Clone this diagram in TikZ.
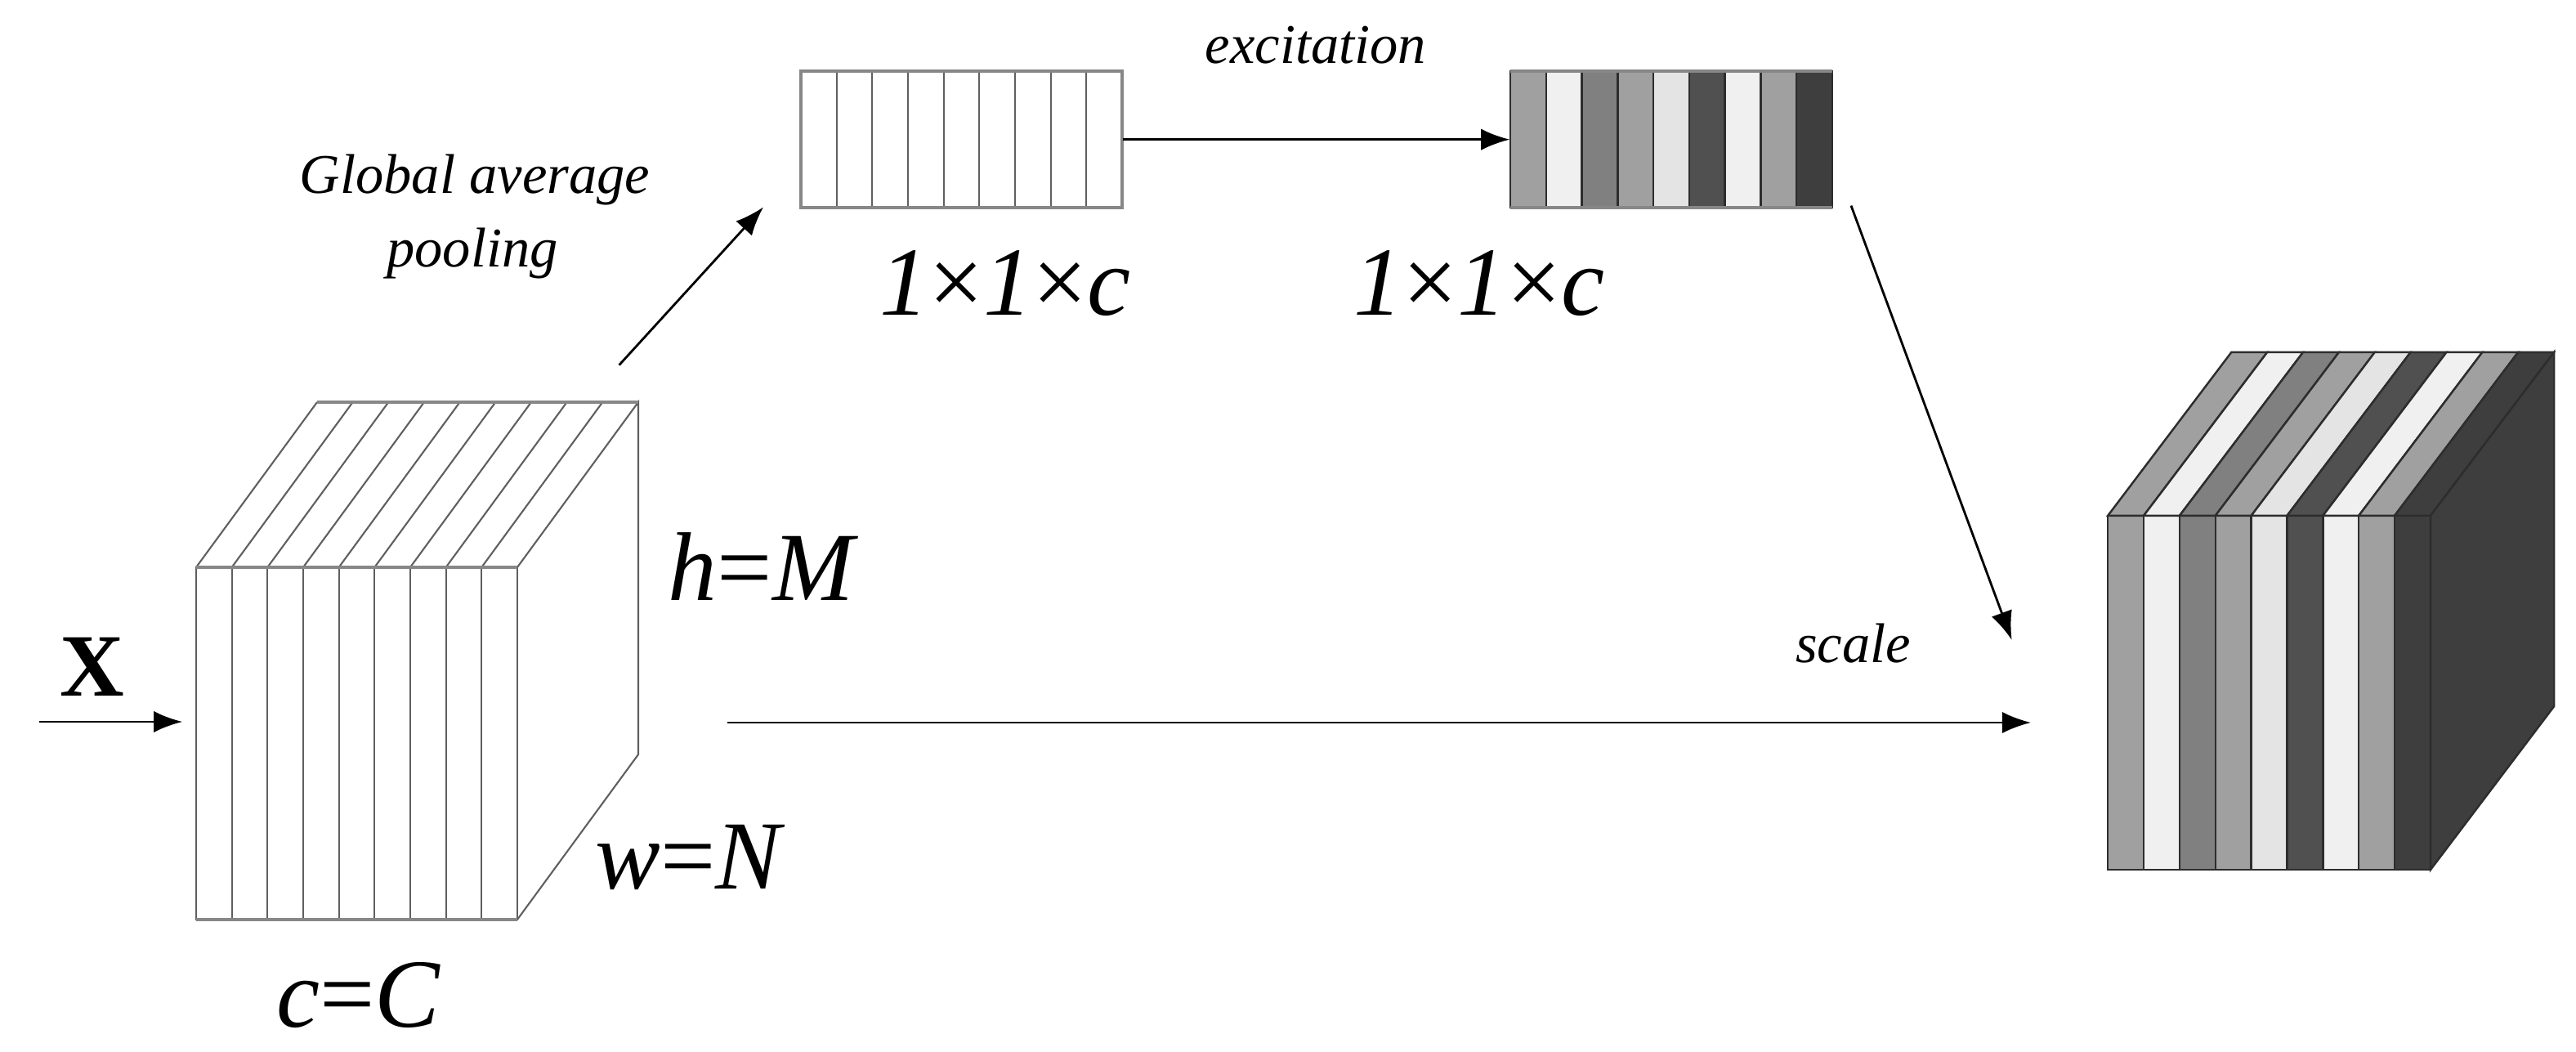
\documentclass[tikz,border=0pt]{standalone}
\usepackage{fontspec}
\setmainfont{Liberation Serif}
\usetikzlibrary{arrows.meta,positioning}

\definecolor{linegray}{RGB}{95,95,95}
\definecolor{rimgray}{RGB}{135,135,135}
\definecolor{darkline}{RGB}{45,45,45}
\definecolor{toneA}{RGB}{160,160,160}
\definecolor{toneB}{RGB}{240,240,240}
\definecolor{toneC}{RGB}{128,128,128}
\definecolor{toneD}{RGB}{228,228,228}
\definecolor{toneE}{RGB}{80,80,80}
\definecolor{toneF}{RGB}{62,62,62}

\tikzset{
	flow/.style={-{Latex[length=10pt,width=7.5pt]}, line width=0.8pt, black},
	slab/.style={draw=linegray, line width=0.6pt},
	band/.style={draw=darkline, line width=0.7pt},
	rim/.style={draw=rimgray, line width=1.1pt},
	caption/.style={font=\fontsize{19.5}{22}\selectfont\itshape, inner sep=0pt, anchor=base},
	dims/.style={font=\fontsize{34}{36}\selectfont, inner sep=0pt, anchor=base},
}

\begin{document}
\begin{tikzpicture}[x=0.02cm, y=-0.02cm]
\useasboundingbox (0,0) rectangle (1576,643.5);

% input feature map X
\foreach \k in {0,...,8}{
	\draw[slab] ({120+21.83*\k},347) rectangle ({120+21.83*(\k+1)},562.5);
	\draw[slab] ({120+21.83*\k},347) -- ++(74,-101);
}
\draw[slab] (316.5,347) -- (390.5,246) -- (390.5,461.5) -- (316.5,562.5);
\draw[rim] (194,246) -- (390.5,246);
\draw[rim] (120,347) -- (316.5,347);
\draw[rim] (120,562.5) -- (316.5,562.5);

\node[font=\fontsize{31}{33}\selectfont\bfseries, inner sep=0pt, anchor=base] (xlabel) at (56.5,425.5) {X};
\coordinate (xin) at (24,441.5);
\coordinate (xface) at (111.6,441.5);
\draw[flow] (xin) -- (xface);

\node[dims] (hdim) at (467,367) {\textit{h}=\textit{M}};
\node[dims] (wdim) at (422.5,543.5) {\textit{w}=\textit{N}};
\node[dims] (cdim) at (219.5,628) {\textit{c}=\textit{C}};

% squeezed vector
\node[inner sep=0, minimum width=3.93cm, minimum height=1.666cm] (pooled) at (588.25,85.35) {};
\foreach \k in {1,...,8}
	\draw[slab] ({490+21.83*\k},43.7) -- ({490+21.83*\k},127);
\draw[rim] (490,43.7) rectangle (686.5,127);
\node[dims] (pooleddim) at (615,193) {\textit{1}×\textit{1}×\textit{c}};

% excited vector
\foreach \c [count=\k from 0] in {toneA,toneB,toneC,toneA,toneD,toneE,toneB,toneA,toneF}
	\filldraw[band, fill=\c] ({924+21.89*\k},43.7) rectangle ++(21.89,83.3);
\draw[rim] (924,43.7) -- (1121,43.7) (924,127) -- (1121,127);
\node[inner sep=0, minimum width=3.94cm, minimum height=1.666cm] (excited) at (1022.5,85.35) {};
\node[dims] (exciteddim) at (905,193) {\textit{1}×\textit{1}×\textit{c}};

% rescaled output
\foreach \c [count=\k from 0] in {toneA,toneB,toneC,toneA,toneD,toneE,toneB,toneA,toneF}{
	\filldraw[band, fill=\c] ({1289.6+21.93*\k},315.4) rectangle ++(21.93,216.6);
	\filldraw[band, fill=\c] ({1289.6+21.93*\k},315.4) -- ++(75.6,-100) -- ++(21.93,0) -- ++(-75.6,100) -- cycle;
}
\filldraw[band, fill=toneF] (1487,315.4) -- ++(75.6,-100) -- ++(0,216.6) -- ++(-75.6,100) -- cycle;

% operations
\coordinate (gapfrom) at (378.8,223.3);
\coordinate (gapto) at (467,126.7);
\draw[flow] (gapfrom) -- (gapto);
\node[caption] (gaptop) at (290.5,118.3) {Global average};
\node[caption] (gapbot) at (289,163.3) {pooling};

\draw[flow] (pooled.east) -- (excited.west);
\node[caption] (excitelabel) at (805,39) {excitation};

\coordinate (scalefrom) at (1132.5,125.8);
\coordinate (scaleto) at (1230.8,391.5);
\draw[flow] (scalefrom) -- (scaleto);

\coordinate (skipfrom) at (445,442);
\coordinate (skipto) at (1242.5,442);
\draw[flow] (skipfrom) -- (skipto);
\node[caption] (scalelabel) at (1133.7,405) {scale};
\end{tikzpicture}
\end{document}
